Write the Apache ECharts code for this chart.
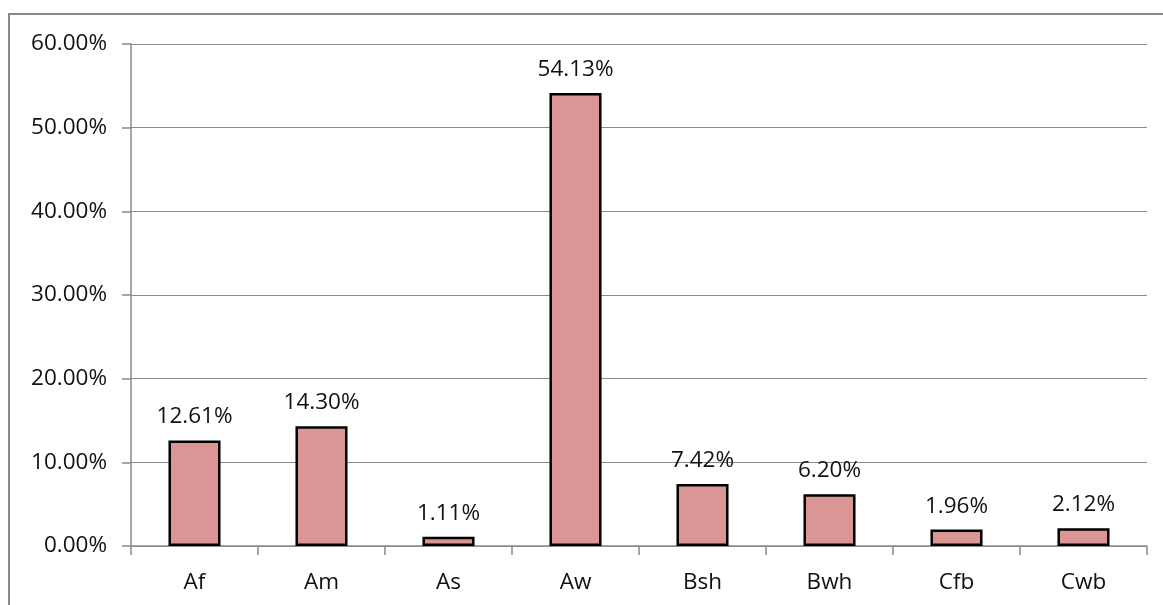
<!DOCTYPE html>
<html>
<head>
<meta charset="utf-8">
<script src="https://cdn.jsdelivr.net/npm/echarts@6/dist/echarts.min.js"></script>
<style>
html,body{margin:0;padding:0;background:#fff;}
#chart{width:1163px;height:605px;position:relative;}
#frame{position:absolute;left:8px;top:13px;width:1200px;height:700px;border-left:2px solid #8a8a8a;border-top:2px solid #8a8a8a;pointer-events:none;box-sizing:border-box;}
</style>
</head>
<body>
<div style="position:relative;width:1163px;height:605px;overflow:hidden;">
<div id="chart"></div>
<div id="frame"></div>
</div>
<script>
const categories = ['Af', 'Am', 'As', 'Aw', 'Bsh', 'Bwh', 'Cfb', 'Cwb'];
const shares = [12.61, 14.30, 1.11, 54.13, 7.42, 6.20, 1.96, 2.12];
const yTicks = [0, 10, 20, 30, 40, 50, 60];

const chart = echarts.init(document.getElementById('chart'), null, {renderer: 'canvas'});
const font = '"Open Sans", sans-serif';
chart.setOption({
  animation: false,
  backgroundColor: 'transparent',
  grid: {left: 131, right: 16, top: 44, bottom: 59, containLabel: false},
  xAxis: {
    type: 'category',
    data: categories,
    axisLine: {lineStyle: {color: '#8a8a8a', width: 1.5}},
    axisTick: {show: true, length: 9, alignWithLabel: false, lineStyle: {color: '#8a8a8a', width: 1.5}},
    axisLabel: {margin: 25, color: '#111', fontFamily: font, fontSize: 22.5}
  },
  yAxis: {
    type: 'value',
    min: yTicks[0],
    max: yTicks[yTicks.length - 1],
    interval: 10,
    axisLine: {show: true, lineStyle: {color: '#8a8a8a', width: 1.5}},
    axisTick: {show: true, length: 9, lineStyle: {color: '#8a8a8a', width: 1.5}},
    splitLine: {show: true, lineStyle: {color: '#8a8a8a', width: 1}},
    axisLabel: {margin: 24, color: '#111', fontFamily: font, fontSize: 22.5,
      formatter: v => v.toFixed(2) + '%'}
  },
  series: [{
    type: 'bar',
    data: shares,
    barWidth: '41%',
    itemStyle: {color: '#d99694', borderColor: '#000', borderWidth: 2.5},
    label: {show: true, position: 'top', distance: 12, color: '#111', fontFamily: font, fontSize: 22.5,
      formatter: p => p.value.toFixed(2) + '%'}
  }]
});
</script>
</body>
</html>
